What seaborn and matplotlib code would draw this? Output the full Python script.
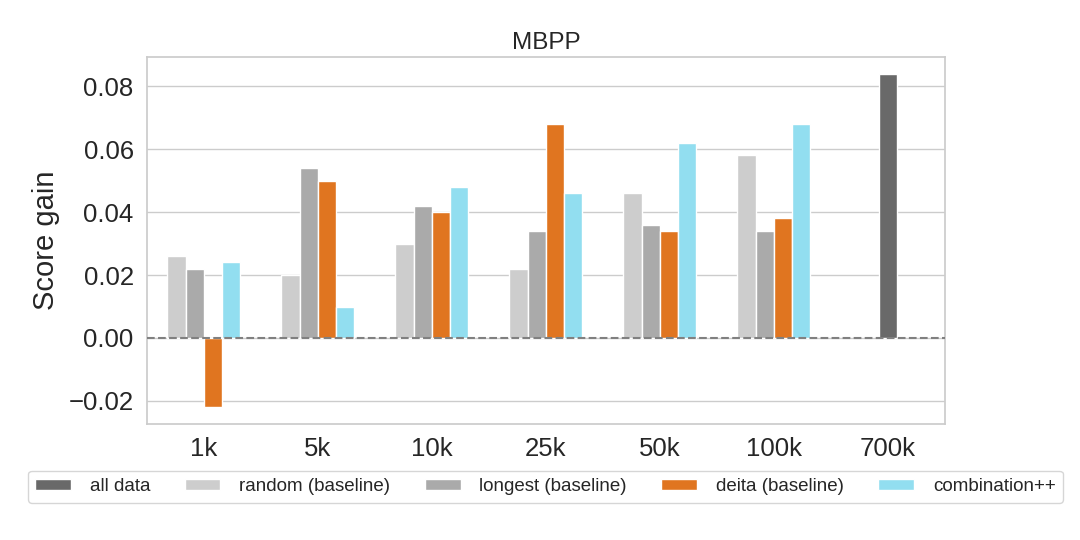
import numpy as np
import pandas as pd
import matplotlib
matplotlib.use("Agg")
import matplotlib.pyplot as plt
import seaborn as sns
from matplotlib.patches import Patch

# data
sizes = ["1k", "5k", "10k", "25k", "50k", "100k", "700k"]
methods = ["random (baseline)", "longest (baseline)", "deita (baseline)", "combination++"]
random_gain = [0.026, 0.020, 0.030, 0.022, 0.046, 0.058]
longest_gain = [0.022, 0.054, 0.042, 0.034, 0.036, 0.034]
deita_gain = [-0.022, 0.050, 0.040, 0.068, 0.034, 0.038]
combo_gain = [0.024, 0.010, 0.048, 0.046, 0.062, 0.068]
all_data_size = ["700k"]
all_data_gain = [0.084]

colors = {
    "all data": "#696969",
    "random (baseline)": "#cdcdcd",
    "longest (baseline)": "#aaaaaa",
    "deita (baseline)": "#e07520",
    "combination++": "#92def0",
}

rows = []
for name, vals in zip(methods, [random_gain, longest_gain, deita_gain, combo_gain]):
    for s, v in zip(sizes[:-1], vals):
        rows.append({"size": s, "method": name, "gain": v})
df = pd.DataFrame(rows)
df_all = pd.DataFrame({"size": all_data_size, "method": "all data", "gain": all_data_gain})

sns.set_theme(style="whitegrid")
plt.rcParams["font.family"] = ["Liberation Sans", "DejaVu Sans"]

fig, ax = plt.subplots(figsize=(10.8, 5.4), dpi=100)
fig.subplots_adjust(left=0.136, right=0.875, top=0.894, bottom=0.215)

sns.barplot(data=df, x="size", y="gain", hue="method", order=sizes,
            hue_order=methods, palette=colors, width=0.64, saturation=1,
            edgecolor="white", linewidth=1, ax=ax, legend=False)
sns.barplot(data=df_all, x="size", y="gain", order=sizes, color=colors["all data"],
            width=0.16, saturation=1, edgecolor="white", linewidth=1, ax=ax)

ax.axhline(0, color="gray", linestyle="--", linewidth=1.5, zorder=3)
ax.set_ylim(-0.0273, 0.0892)
ax.set_xlim(-0.5, 6.5)
ax.set_yticks([-0.02, 0.0, 0.02, 0.04, 0.06, 0.08])
ax.set_yticklabels(["\u22120.02", "0.00", "0.02", "0.04", "0.06", "0.08"])
ax.tick_params(axis="both", labelsize=18.5)
ax.set_xlabel("")
ax.set_ylabel("Score gain", fontsize=21, labelpad=6)
ax.set_title("MBPP", fontsize=17.5, pad=6)
ax.xaxis.grid(False)

handles = [Patch(facecolor=colors[k], label=k) for k in colors]
fig.legend(handles=handles, loc="center", ncol=5, bbox_to_anchor=(0.505, 0.099),
           fontsize=13.5, handlelength=1.9, handleheight=0.55,
           handletextpad=1.0, columnspacing=1.85, frameon=True)

plt.savefig("out.png", dpi=100)
